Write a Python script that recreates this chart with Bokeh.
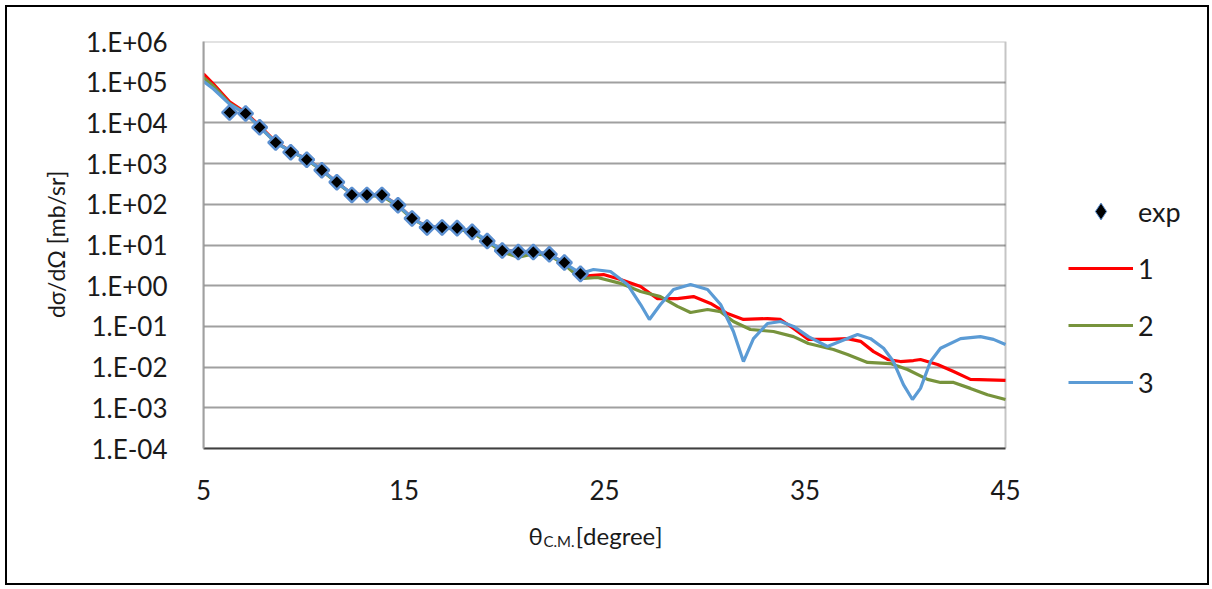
from bokeh.plotting import figure
from bokeh.models import (FixedTicker, CustomJSTickFormatter, Legend, LegendItem, Title,
                          Range1d, BoxAnnotation)
from bokeh.embed import file_html
from bokeh.resources import INLINE
import numpy as np

# ---------------- data ----------------
exp_theta = [6.3, 7.1, 7.8, 8.6, 9.35, 10.15, 10.9, 11.65, 12.4, 13.15, 13.9, 14.7, 15.4,
             16.15, 16.9, 17.65, 18.4, 19.15, 19.9, 20.7, 21.45, 22.25, 23.0, 23.8]
exp_sigma = [1.8e4, 1.7e4, 7.8e3, 3.3e3, 1.9e3, 1.25e3, 6.9e2, 3.5e2, 1.7e2, 1.7e2, 1.7e2,
             9.5e1, 4.5e1, 2.7e1, 2.7e1, 2.6e1, 2.1e1, 1.25e1, 7.3, 6.7, 6.7, 5.9, 3.7, 1.95]

m1_theta = [5, 5.5, 6.3, 7.1, 7.8, 8.6, 9.35, 10.15, 10.9, 11.65, 12.4, 13.15, 13.9, 14.7,
            15.4, 16.15, 16.9, 17.65, 18.4, 19.15, 19.9, 20.7, 21.45, 22.25, 23.0, 23.8,
            24.95, 25.8, 26.8, 27.64, 28.64, 29.44, 30.29, 31.13, 31.93, 33.13, 33.78, 34.43,
            35.17, 36.27, 37.12, 37.77, 38.42, 39.12, 39.76, 40.41, 40.76, 41.61, 42.41,
            43.25, 45.0]
m1_sigma = [1.6e5, 9.0e4, 3.3e4, 1.8e4, 8.5e3, 3.4e3, 2.0e3, 1.3e3, 7.0e2, 3.5e2, 1.8e2,
            1.7e2, 1.7e2, 9.5e1, 4.6e1, 2.8e1, 2.7e1, 2.6e1, 2.1e1, 1.25e1, 7.5, 6.8, 6.8,
            5.9, 3.6, 1.7, 1.88, 1.42, 0.955, 0.48, 0.48, 0.54, 0.366, 0.207, 0.148, 0.156,
            0.148, 0.089, 0.048, 0.048, 0.050, 0.043, 0.024, 0.0154, 0.0137, 0.0145, 0.0154,
            0.0116, 0.0078, 0.0050, 0.0047]

m2_theta = [5, 5.5, 6.3, 7.1, 7.8, 8.6, 9.35, 10.15, 10.9, 11.65, 12.4, 13.15, 13.9, 14.7,
            15.4, 16.15, 16.9, 17.65, 18.4, 19.15, 19.9, 20.7, 21.45, 22.25, 23.0, 23.8,
            24.65, 25.8, 26.8, 27.79, 28.64, 29.29, 30.14, 30.79, 31.43, 32.28, 33.43, 34.43,
            35.17, 36.42, 37.12, 38.12, 39.26, 40.11, 41.11, 41.76, 42.41, 43.25, 44.1, 45.0]
m2_sigma = [1.3e5, 8.0e4, 3.0e4, 1.7e4, 8.0e3, 3.3e3, 2.0e3, 1.25e3, 6.8e2, 3.4e2, 1.8e2,
            1.6e2, 1.6e2, 9.0e1, 4.4e1, 2.8e1, 2.6e1, 2.5e1, 2.0e1, 1.2e1, 6.8, 5.0, 6.0, 5.6,
            3.3, 1.5, 1.59, 1.14, 0.72, 0.54, 0.31, 0.22, 0.26, 0.23, 0.132, 0.084, 0.075,
            0.056, 0.038, 0.027, 0.0204, 0.013, 0.0122, 0.0087, 0.0050, 0.0042, 0.0042,
            0.0030, 0.0021, 0.0016]

m3_theta = [5, 5.5, 6.3, 7.1, 7.8, 8.6, 9.35, 10.15, 10.9, 11.65, 12.4, 13.15, 13.9, 14.7,
            15.4, 16.15, 16.9, 17.65, 18.4, 19.15, 19.9, 20.7, 21.45, 22.25, 23.0, 23.8,
            24.45, 25.3, 26.15, 26.8, 27.24, 27.79, 28.44, 29.29, 30.14, 30.79, 31.43, 31.93,
            32.43, 33.13, 33.78, 34.43, 35.17, 36.12, 36.77, 37.62, 38.27, 38.92, 39.41,
            39.91, 40.36, 40.76, 41.26, 41.76, 42.76, 43.75, 44.4, 45.0]
m3_sigma = [1.05e5, 6.8e4, 2.9e4, 1.7e4, 8.0e3, 3.3e3, 2.0e3, 1.3e3, 7.0e2, 3.5e2, 1.8e2,
            1.7e2, 1.7e2, 9.5e1, 4.6e1, 2.8e1, 2.7e1, 2.6e1, 2.2e1, 1.3e1, 7.5, 6.9, 7.0, 6.0,
            3.6, 2.0, 2.5, 2.23, 1.07, 0.345, 0.148, 0.345, 0.81, 1.07, 0.81, 0.345, 0.075,
            0.0137, 0.050, 0.118, 0.132, 0.10, 0.056, 0.032, 0.043, 0.063, 0.050, 0.029,
            0.0137, 0.0037, 0.0016, 0.0030, 0.0137, 0.029, 0.050, 0.056, 0.048, 0.036]

x_ticks = [5, 15, 25, 35, 45]
y_ticks = [1e-4, 1e-3, 1e-2, 1e-1, 1e0, 1e1, 1e2, 1e3, 1e4, 1e5, 1e6]
y_tick_labels = ["1.E-04", "1.E-03", "1.E-02", "1.E-01", "1.E+00", "1.E+01",
                 "1.E+02", "1.E+03", "1.E+04", "1.E+05", "1.E+06"]

series_names = ["exp", "1", "2", "3"]
colors = {"1": "#ff0000", "2": "#77933c", "3": "#5b9bd5"}

FONT = "Lato"
TXT = "#1a1a1a"

# plot area spans x_ticks[0]..x_ticks[-1] over 802 px; the frame is extended
# 192 px to the right so that the legend can sit inside it
x_lo, x_hi = x_ticks[0], x_ticks[-1]
x_end = x_hi + 192 * (x_hi - x_lo) / 802

# ---------------- figure ----------------
p = figure(width=1200, height=576, y_axis_type="log",
           x_range=Range1d(x_lo, x_end), y_range=Range1d(y_ticks[0], y_ticks[-1]),
           output_backend="svg", toolbar_location=None,
           min_border_left=196, min_border_right=10,
           min_border_top=34, min_border_bottom=135)
p.margin = (7, 0, 0, 7)
p.styles = {"outline": "2px solid #000000", "outline-offset": "0px"}

p.outline_line_color = None
p.background_fill_color = "white"
p.border_fill_color = "white"

p.xgrid.grid_line_color = None
p.ygrid.grid_line_color = "#a0a0a0"
p.ygrid.grid_line_width = 2
p.ygrid.ticker = FixedTicker(ticks=y_ticks)
p.ygrid.cross_bounds = (x_lo, x_hi)

# plot-area border (dark top / right / bottom)
p.add_layout(BoxAnnotation(left=x_lo, right=x_hi, bottom=y_ticks[0], top=y_ticks[-1],
                           fill_alpha=0, line_color="#404040", line_width=2,
                           level="underlay"))

p.xaxis.ticker = FixedTicker(ticks=x_ticks)
p.xaxis.bounds = (x_lo, x_hi)
p.yaxis.ticker = FixedTicker(ticks=y_ticks)
p.yaxis.formatter = CustomJSTickFormatter(
    args=dict(labels=y_tick_labels),
    code="return labels[Math.round(Math.log10(tick)) + 4];")

for ax in (p.xaxis, p.yaxis):
    ax.major_tick_line_color = None
    ax.minor_tick_line_color = None
    ax.major_label_text_font = FONT
    ax.major_label_text_font_size = "26px"
    ax.major_label_text_color = TXT

p.xaxis.axis_line_color = "#404040"
p.xaxis.axis_line_width = 2
p.xaxis.major_label_standoff = 25
p.yaxis.axis_line_color = "#a0a0a0"
p.yaxis.axis_line_width = 2
p.yaxis.major_label_standoff = 30

p.yaxis.axis_label = "dσ/dΩ [mb/sr]"
p.yaxis.axis_label_text_font = FONT
p.yaxis.axis_label_text_font_size = "23px"
p.yaxis.axis_label_text_font_style = "normal"
p.yaxis.axis_label_text_color = TXT
p.yaxis.axis_label_standoff = 13

# x title: "θ" + gap for the subscript + "[degree]"; trailing em spaces shift the
# centred label left onto the centre of the plot area (frame is wider)
p.xaxis.axis_label = "θ\u2003\u2002\u2009[degree]" + "\u2003" * 11 + "\u2002"
p.xaxis.axis_label_text_font = FONT
p.xaxis.axis_label_text_font_size = "24px"
p.xaxis.axis_label_text_font_style = "normal"
p.xaxis.axis_label_text_color = TXT
p.xaxis.axis_label_standoff = 18

sub = Title(text="C.M.", align="left", offset=340, standoff=-42, vertical_align="top",
            text_font=FONT, text_font_size="15px", text_font_style="normal",
            text_color=TXT)
p.add_layout(sub, "below")

# ---------------- glyphs ----------------
r1 = p.line(m1_theta, m1_sigma, line_color=colors["1"], line_width=3.2)
r2 = p.line(m2_theta, m2_sigma, line_color=colors["2"], line_width=3.2)
r3 = p.line(m3_theta, m3_sigma, line_color=colors["3"], line_width=3.2)
# diamond glyph used for the legend entry (hidden below the data markers)
rexp_leg = p.scatter(exp_theta, exp_sigma, marker="diamond", size=6,
                     fill_color="#000000", line_color="#5b8fd0", line_width=1)
rexp = p.scatter(exp_theta, exp_sigma, marker="square", angle=np.pi / 4, size=10.5,
                 fill_color="#000000", line_color="#5b8fd0", line_width=2.4)

legend = Legend(items=[LegendItem(label=series_names[0], renderers=[rexp_leg]),
                       LegendItem(label=series_names[1], renderers=[r1]),
                       LegendItem(label=series_names[2], renderers=[r2]),
                       LegendItem(label=series_names[3], renderers=[r3])],
                location=(865, 45), orientation="vertical",
                glyph_width=65, glyph_height=42, label_height=34,
                spacing=15, padding=0, margin=0, label_standoff=5,
                border_line_color=None, background_fill_alpha=0,
                label_text_font=FONT, label_text_font_size="27px",
                label_text_color=TXT)
p.add_layout(legend, "center")

open("out.html", "w").write(file_html(p, INLINE))
